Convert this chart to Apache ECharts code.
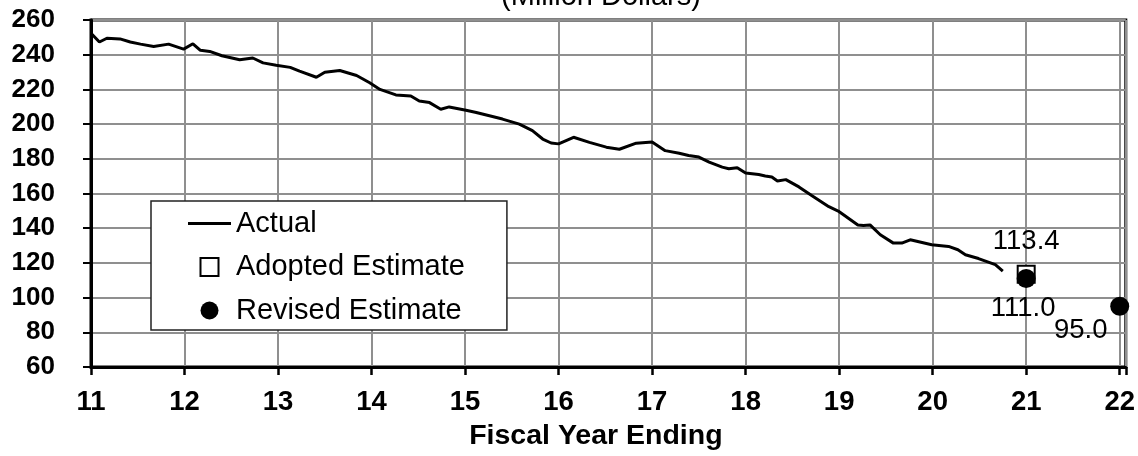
<!DOCTYPE html>
<html>
<head>
<meta charset="utf-8">
<script src="https://cdn.jsdelivr.net/npm/echarts@6/dist/echarts.min.js"></script>
<style>
html,body{margin:0;padding:0;background:#fff;}
#chart{width:1138px;height:456px;}
</style>
</head>
<body>
<div id="chart"></div>
<script>
// ---- data ----
const actualYears = [11.00,11.09,11.17,11.31,11.42,11.53,11.67,11.83,11.99,12.09,12.17,12.27,12.40,12.59,12.73,12.84,12.98,13.13,13.23,13.41,13.50,13.66,13.84,13.98,14.09,14.26,14.42,14.51,14.62,14.74,14.83,15.01,15.12,15.26,15.40,15.58,15.72,15.83,15.92,16.00,16.16,16.33,16.51,16.65,16.83,17.00,17.14,17.29,17.39,17.50,17.61,17.75,17.82,17.91,18.00,18.14,18.21,18.28,18.34,18.43,18.57,18.71,18.89,18.99,19.20,19.26,19.33,19.44,19.58,19.67,19.76,19.99,20.17,20.27,20.35,20.49,20.67,20.75];
const actualValues = [252.4,247.3,249.5,249.1,247.3,246.1,244.7,246.1,243.2,246.3,242.5,241.9,239.4,237.1,238.1,235.3,233.9,232.7,230.5,227.0,229.9,230.9,228.0,223.8,220.0,216.8,216.2,213.3,212.4,208.6,209.9,208.0,206.7,204.8,202.9,200.0,196.2,191.4,189.1,188.6,192.4,189.5,186.7,185.5,189.0,189.7,184.7,183.2,181.9,181.0,178.1,175.2,174.3,174.9,171.8,170.9,170.1,169.5,167.2,168.0,163.8,158.7,152.4,149.9,141.9,141.5,141.9,136.2,131.4,131.4,133.3,130.5,129.5,127.6,124.7,122.5,119.0,115.2];
const adoptedYears = [21];
const adoptedValues = [113.4];
const revisedYears = [21, 22];
const revisedValues = [111.0, 95.0];
const seriesNames = ['Actual', 'Adopted Estimate', 'Revised Estimate'];
const titleText = '(Million Dollars)';
const xAxisTitle = 'Fiscal Year Ending';
const yMin = 60, yMax = 260, yStep = 20;
const xMin = 11, xMax = 22.065, xStep = 1;

const FONT = "'Liberation Sans', Arial, sans-serif";
const pairs = (xs, ys) => xs.map((x, i) => [x, ys[i]]);

const chart = echarts.init(document.getElementById('chart'), null, {renderer: 'canvas'});
chart.setOption({
  animation: false,
  backgroundColor: '#fff',
  graphic: [{
    type: 'text', x: 601, y: 11, z: 100,
    style: {text: titleText, font: "29px " + FONT, fill: '#000', align: 'center', verticalAlign: 'bottom'}
  }],
  grid: {left: 91, right: 10, top: 20, bottom: 86.5, show: true, borderColor: '#000', borderWidth: 3, backgroundColor: 'transparent'},
  xAxis: {
    type: 'value', min: xMin, max: xMax, interval: xStep,
    name: xAxisTitle, nameLocation: 'middle', nameGap: 55,
    nameTextStyle: {fontFamily: FONT, fontSize: 28.5, fontWeight: 'bold', color: '#000', padding: [0, 25, 0, 0]},
    axisLine: {show: true, lineStyle: {color: '#000', width: 3}},
    axisTick: {show: true, length: 8, lineStyle: {color: '#000', width: 2.5}},
    axisLabel: {
      fontFamily: FONT, fontSize: 27.5, fontWeight: 'bold', color: '#000', margin: 21,
      formatter: v => (Math.abs(v - Math.round(v)) < 1e-6 ? String(Math.round(v)) : '')
    },
    splitLine: {show: true, lineStyle: {color: '#8f8f8f', width: 2}}
  },
  yAxis: {
    type: 'value', min: yMin, max: yMax, interval: yStep,
    axisLine: {show: true, lineStyle: {color: '#000', width: 3}},
    axisTick: {show: true, length: 8, lineStyle: {color: '#000', width: 2}},
    axisLabel: {fontFamily: FONT, fontSize: 26, fontWeight: 'bold', color: '#000', margin: 36},
    splitLine: {show: true, lineStyle: {color: '#8f8f8f', width: 2}}
  },
  legend: {
    orient: 'vertical', left: 151, top: 201,
    itemWidth: 43, itemHeight: 18, itemGap: 14.5,
    padding: [8, 42, 5, 37],
    symbolKeepAspect: true,
    backgroundColor: '#fff', borderColor: '#222', borderWidth: 1.5,
    textStyle: {fontFamily: FONT, fontSize: 29, color: '#000'},
    data: [
      {name: seriesNames[0], icon: 'path://M0,0 L43,0 L43,3 L0,3 Z', itemStyle: {color: '#000', borderWidth: 0}},
      {name: seriesNames[1], icon: 'path://M0,0 L17,0 L17,17 L0,17 Z', itemStyle: {color: '#fff', borderColor: '#000', borderWidth: 2}},
      {name: seriesNames[2], icon: 'circle', itemStyle: {color: '#000'}}
    ]
  },
  series: [
    {
      name: seriesNames[0], type: 'line', data: pairs(actualYears, actualValues),
      showSymbol: false, symbol: 'none', smooth: false,
      lineStyle: {color: '#000', width: 3}, itemStyle: {color: '#000'}, z: 3
    },
    {
      name: seriesNames[1], type: 'scatter', data: pairs(adoptedYears, adoptedValues),
      symbol: 'rect', symbolSize: 17,
      itemStyle: {color: '#fff', borderColor: '#000', borderWidth: 2, opacity: 1},
      label: {show: true, position: 'top', distance: 9, fontFamily: FONT, fontSize: 27.5, color: '#000',
        formatter: p => p.value[1].toFixed(1)},
      z: 4
    },
    {
      name: seriesNames[2], type: 'scatter',
      data: pairs(revisedYears, revisedValues).map((d, i) => ({
        value: d,
        label: i === 0 ? {position: 'bottom', distance: 6, offset: [-3, 0]}
                       : {position: 'bottom', distance: 1, offset: [-39, 0]}
      })),
      symbol: 'circle', symbolSize: 19,
      itemStyle: {color: '#000', opacity: 1},
      label: {show: true, fontFamily: FONT, fontSize: 27.5, color: '#000',
        formatter: p => p.value[1].toFixed(1)},
      z: 5
    }
  ]
});
</script>
</body>
</html>
